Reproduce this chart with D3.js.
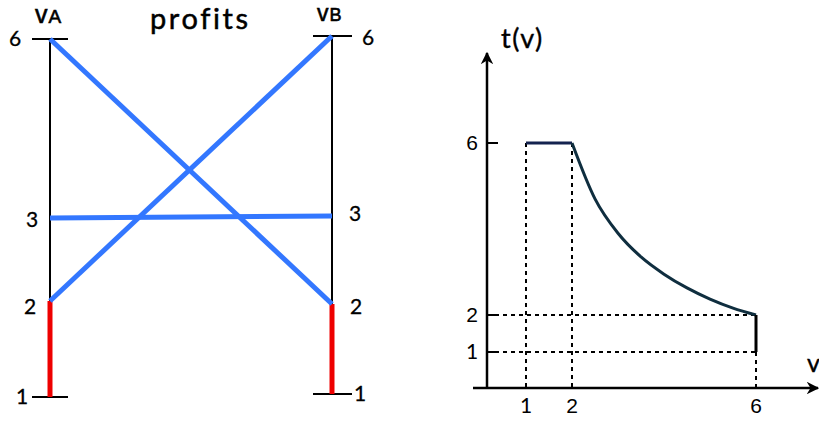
<!DOCTYPE html>
<html>
<head>
<meta charset="utf-8">
<script src="https://cdn.jsdelivr.net/npm/d3@7"></script>
<style>
  body { margin: 0; background: #fff; }
  svg { display: block; }
</style>
</head>
<body>
<div id="chart"></div>
<script>
// left panel: profits between the two valuations
const profitTicks = [1, 2, 3, 6];
const blueLinks = [
  { a: 6, b: 2 },
  { a: 2, b: 6 },
  { a: 3, b: 3 }
];
const redRange = [1, 2];

// right panel: t(v)
const vTicks = [1, 2, 6];
const tTicks = [1, 2, 6];
const flatPart = [{ v: 1, t: 6 }, { v: 2, t: 6 }];
const curvePart = [
  { v: 2, t: 6 }, { v: 2.5, t: 4.7 }, { v: 3, t: 3.9 }, { v: 3.5, t: 3.35 },
  { v: 4, t: 2.95 }, { v: 4.5, t: 2.63 }, { v: 5, t: 2.37 }, { v: 5.5, t: 2.16 },
  { v: 6, t: 2 }
];
const dropPart = [{ v: 6, t: 2 }, { v: 6, t: 1 }];

const width = 819, height = 421;
const svg = d3.select("#chart").append("svg")
  .attr("width", width)
  .attr("height", height)
  .style("font-family", "Lato, 'Open Sans', sans-serif");

// ---------- left panel ----------
// the drawing is not to scale, so the scales are piecewise
const xA = 50, xB = 332;
const yA = d3.scaleLinear().domain([1, 2, 3, 6]).range([397, 301, 218, 39]);
const yB = d3.scaleLinear().domain([1, 2, 3, 6]).range([394, 304, 216, 36]);

const left = svg.append("g");

// black axis lines
left.append("line").attr("x1", xA).attr("x2", xA).attr("y1", yA(6)).attr("y2", yA(1))
  .attr("stroke", "#000").attr("stroke-width", 2);
left.append("line").attr("x1", xB).attr("x2", xB).attr("y1", yB(6)).attr("y2", yB(1))
  .attr("stroke", "#000").attr("stroke-width", 2);

// end caps
[6, 1].forEach(v => {
  left.append("line").attr("x1", xA - 18).attr("x2", xA + 18).attr("y1", yA(v)).attr("y2", yA(v))
    .attr("stroke", "#000").attr("stroke-width", 2);
  left.append("line").attr("x1", xB - 19).attr("x2", xB + 20).attr("y1", yB(v)).attr("y2", yB(v))
    .attr("stroke", "#000").attr("stroke-width", 2);
});

// red segments
left.append("line").attr("x1", xA).attr("x2", xA).attr("y1", yA(redRange[1])).attr("y2", yA(redRange[0]))
  .attr("stroke", "#ee0000").attr("stroke-width", 5);
left.append("line").attr("x1", xB).attr("x2", xB).attr("y1", yB(redRange[1])).attr("y2", yB(redRange[0]))
  .attr("stroke", "#ee0000").attr("stroke-width", 5);

// blue links
left.selectAll("line.link")
  .data(blueLinks)
  .join("line")
  .attr("class", "link")
  .attr("x1", xA).attr("y1", d => yA(d.a))
  .attr("x2", xB).attr("y2", d => yB(d.b))
  .attr("stroke", "#3377ff")
  .attr("stroke-width", 5);

// tick labels
const labA = { 6: [15, 0], 3: [32, 2], 2: [30, 6], 1: [22, 0] };
const labB = { 6: [368, 2], 3: [355, -2], 2: [356, 3], 1: [360, 0] };
left.selectAll("text.la")
  .data(profitTicks)
  .join("text")
  .attr("class", "la")
  .attr("x", d => labA[d][0])
  .attr("y", d => yA(d) + labA[d][1])
  .attr("dy", "0.35em")
  .attr("text-anchor", "middle")
  .attr("font-size", 21)
  .attr("stroke", "#000").attr("stroke-width", 0.3)
  .text(d => d);
left.selectAll("text.lb")
  .data(profitTicks)
  .join("text")
  .attr("class", "lb")
  .attr("x", d => labB[d][0])
  .attr("y", d => yB(d) + labB[d][1])
  .attr("dy", "0.35em")
  .attr("text-anchor", "middle")
  .attr("font-size", 21)
  .attr("stroke", "#000").attr("stroke-width", 0.3)
  .text(d => d);

// titles
const tA = left.append("text").attr("x", 35).attr("y", 23)
  .attr("font-family", "'Liberation Sans', Arial, sans-serif").attr("font-size", 25)
  .attr("stroke", "#000").attr("stroke-width", 0.6);
tA.append("tspan").attr("font-size", 25).attr("letter-spacing", 1).text("v");
tA.append("tspan").attr("font-size", 19).text("A");
const tB = left.append("text").attr("x", 317).attr("y", 21)
  .attr("font-family", "'Liberation Sans', Arial, sans-serif").attr("font-size", 23)
  .attr("stroke", "#000").attr("stroke-width", 0.6);
tB.append("tspan").attr("font-size", 23).attr("letter-spacing", 1).text("v");
tB.append("tspan").attr("font-size", 18).text("B");
left.append("text").attr("x", 150).attr("y", 29)
  .attr("font-size", 29).attr("letter-spacing", 2.6)
  .attr("stroke", "#000").attr("stroke-width", 0.5).text("profits");

// ---------- right panel ----------
const x = d3.scaleLinear().domain([1, 2, 6]).range([526, 572, 756]);
const y = d3.scaleLinear().domain([0, 1, 2, 6]).range([388, 352, 315, 143]);
const axisX = 487;

const right = svg.append("g");

svg.append("defs").append("marker")
  .attr("id", "arrow")
  .attr("viewBox", "0 0 10 10")
  .attr("refX", 9).attr("refY", 5)
  .attr("markerWidth", 5).attr("markerHeight", 5)
  .attr("orient", "auto-start-reverse")
  .append("path")
  .attr("d", "M0,0 L10,5 L0,10 L3,5 Z")
  .attr("fill", "#000");

// axes
right.append("line").attr("x1", axisX).attr("x2", axisX).attr("y1", y(0) + 1).attr("y2", 53)
  .attr("stroke", "#000").attr("stroke-width", 2.5).attr("marker-end", "url(#arrow)");
right.append("line").attr("x1", 473).attr("x2", 818).attr("y1", y(0)).attr("y2", y(0))
  .attr("stroke", "#000").attr("stroke-width", 2.5).attr("marker-end", "url(#arrow)");

// y ticks
right.selectAll("line.yt")
  .data(tTicks)
  .join("line")
  .attr("class", "yt")
  .attr("x1", axisX).attr("x2", axisX + 11)
  .attr("y1", d => y(d)).attr("y2", d => y(d))
  .attr("stroke", "#000").attr("stroke-width", 2);

right.selectAll("text.yl")
  .data(tTicks)
  .join("text")
  .attr("class", "yl")
  .attr("x", 472)
  .attr("y", d => y(d))
  .attr("dy", "0.35em")
  .attr("text-anchor", "middle")
  .attr("font-family", d => d === 1 ? "Lato, sans-serif" : "'Liberation Sans', sans-serif")
  .attr("font-size", 21)
  .text(d => d);

right.selectAll("text.xl")
  .data(vTicks)
  .join("text")
  .attr("class", "xl")
  .attr("x", d => x(d))
  .attr("y", 406)
  .attr("dy", "0.35em")
  .attr("text-anchor", "middle")
  .attr("font-family", d => d === 1 ? "Lato, sans-serif" : "'Liberation Sans', sans-serif")
  .attr("font-size", 21)
  .text(d => d);

// dashed guides
const dashed = [
  { x1: x(1), y1: y(6), x2: x(1), y2: y(0) },
  { x1: x(2), y1: y(6), x2: x(2), y2: y(0) },
  { x1: x(6), y1: y(1), x2: x(6), y2: y(0) },
  { x1: axisX, y1: y(2), x2: x(6), y2: y(2) },
  { x1: axisX, y1: y(1), x2: x(6), y2: y(1) }
];
right.selectAll("line.dash")
  .data(dashed)
  .join("line")
  .attr("class", "dash")
  .attr("x1", d => d.x1).attr("y1", d => d.y1)
  .attr("x2", d => d.x2).attr("y2", d => d.y2)
  .attr("stroke", "#000")
  .attr("stroke-width", 2)
  .attr("stroke-dasharray", "4,4");

const line = d3.line().x(d => x(d.v)).y(d => y(d.t));

right.append("path").datum(flatPart)
  .attr("d", line)
  .attr("fill", "none").attr("stroke", "#14234f").attr("stroke-width", 3);
right.append("path").datum(curvePart)
  .attr("d", line.curve(d3.curveMonotoneX))
  .attr("fill", "none").attr("stroke", "#0f2e3f").attr("stroke-width", 3);
right.append("path").datum(dropPart)
  .attr("d", d3.line().x(d => x(d.v)).y(d => y(d.t)))
  .attr("fill", "none").attr("stroke", "#000").attr("stroke-width", 3);

// labels
right.append("text").attr("x", 501).attr("y", 48).attr("font-size", 27)
  .attr("letter-spacing", 1.5).attr("stroke", "#000").attr("stroke-width", 0.4).text("t(v)");
right.append("text").attr("x", 807).attr("y", 372).attr("font-size", 25)
  .attr("stroke", "#000").attr("stroke-width", 0.4).text("v");
</script>
</body>
</html>
